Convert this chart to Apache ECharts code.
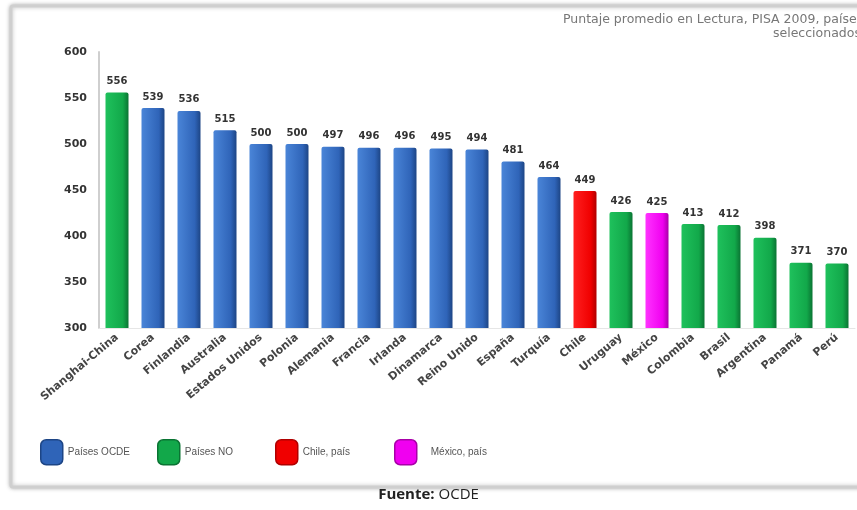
<!DOCTYPE html>
<html>
<head>
<meta charset="utf-8">
<script src="https://cdn.jsdelivr.net/npm/echarts@6/dist/echarts.min.js"></script>
<style>
html,body{margin:0;padding:0;background:#fff;overflow:hidden;}
#c{width:857px;height:510px;}
</style>
</head>
<body>
<div id="c"></div>
<script>
const categories = ['Shanghai-China','Corea','Finlandia','Australia','Estados Unidos','Polonia','Alemania','Francia','Irlanda','Dinamarca','Reino Unido','España','Turquía','Chile','Uruguay','México','Colombia','Brasil','Argentina','Panamá','Perú'];
const scores = [556,539,536,515,500,500,497,496,496,495,494,481,464,449,426,425,413,412,398,371,370];
const groups = ['NO','OCDE','OCDE','OCDE','OCDE','OCDE','OCDE','OCDE','OCDE','OCDE','OCDE','OCDE','OCDE','CHILE','NO','MEXICO','NO','NO','NO','NO','NO'];
const groupKeys = ['OCDE','NO','CHILE','MEXICO'];
const groupNames = ['Países OCDE','Países NO','Chile, país','México, país'];
const yTicks = [300,350,400,450,500,550,600];
const titleLines = ['Puntaje promedio en Lectura, PISA 2009, países','seleccionados'];
const sourceBold = 'Fuente:';
const sourceText = ' OCDE';

const palette = {
  OCDE: ['#4a85d8','#2f64b8','#1d4585'],
  NO: ['#1fc15c','#12a84a','#0a7433'],
  CHILE: ['#ff2020','#f00000','#b00000'],
  MEXICO: ['#ff33ff','#f000f0','#a800a8']
};
function grad(k){
  const c = palette[k];
  return new echarts.graphic.LinearGradient(0,0,1,0,[
    {offset:0,color:c[0]},{offset:0.75,color:c[1]},{offset:1,color:c[2]}
  ]);
}

const series = groupKeys.map((k,gi)=>({
  name: groupNames[gi],
  type: 'bar',
  stack: 'all',
  barWidth: 23,
  data: scores.map((v,i)=> groups[i]===k ? v : null),
  itemStyle: {color: grad(k), borderRadius:[2,2,0,0]},
  label: {
    show: true, position: 'top', distance: 6,
    color: '#333', fontSize: 10, fontWeight: 'bold', fontFamily: 'DejaVu Sans'
  }
}));

const legendLefts = [35, 152, 270, 389];
const legendTextPad = [0, 0, 0, 9];
const legends = groupNames.map((n,i)=>({
  left: legendLefts[i], top: 434,
  itemWidth: 22, itemHeight: 25, itemGap: 6,
  icon: 'roundRect',
  data: [{name:n, itemStyle:{color: palette[groupKeys[i]][1], borderColor: palette[groupKeys[i]][2], borderWidth: 1.5}}],
  textStyle: {color: '#555', fontSize: 10, fontFamily: 'Liberation Sans', padding:[0,0,0,legendTextPad[i]]}
}));

const chart = echarts.init(document.getElementById('c'));
chart.setOption({
  animation: false,
  backgroundColor: '#fff',
  grid: {left: 99, right: 2, top: 52, bottom: 182},
  xAxis: {
    type: 'category',
    data: categories,
    axisLine: {show: true, lineStyle: {color: '#e6e6e6'}},
    axisTick: {show: false},
    axisLabel: {
      interval: 0, rotate: 40, margin: 8,
      color: '#444', fontSize: 11, fontWeight: 'bold', fontFamily: 'DejaVu Sans'
    }
  },
  yAxis: {
    type: 'value',
    min: yTicks[0], max: yTicks[yTicks.length-1], interval: 50,
    axisLine: {show: true, lineStyle: {color: '#cfcfcf', width: 2}},
    axisTick: {show: false},
    splitLine: {show: false},
    axisLabel: {color: '#333', fontSize: 11, fontWeight: 'bold', fontFamily: 'DejaVu Sans', margin: 12}
  },
  legend: legends,
  graphic: [
    {type:'rect', z:-10, shape:{x:11, y:6, width:880, height:481, r:2},
     style:{fill:'#fff', stroke:'#cfcfcf', lineWidth:3, shadowBlur:4, shadowColor:'rgba(0,0,0,0.25)'}},
    {type:'text', z:10, x: 563, y: 13,
     style:{text: titleLines[0], align:'left', fill:'#777', fontSize:12.5, fontFamily:'DejaVu Sans'}},
    {type:'text', z:10, x: 773, y: 27,
     style:{text: titleLines[1], align:'left', fill:'#777', fontSize:12.5, fontFamily:'DejaVu Sans'}},
    {type:'text', z:10, left: 'center', top: 487,
     style:{text: '{b|'+sourceBold+'}{n|'+sourceText+'}',
       rich:{b:{fontWeight:'bold', fontSize:15, fill:'#222', fontFamily:'Open Sans'}, n:{fontSize:15, fill:'#222', fontFamily:'Open Sans'}}}}
  ],
  series: series
});
</script>
</body>
</html>
